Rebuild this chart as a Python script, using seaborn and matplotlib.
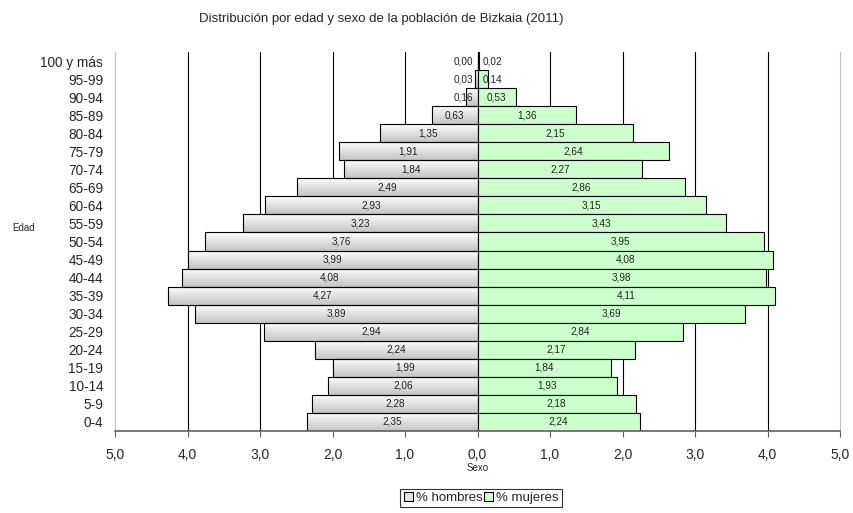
import numpy as np
import pandas as pd
import matplotlib
matplotlib.use("Agg")
import matplotlib.pyplot as plt
import seaborn as sns
from matplotlib.ticker import FuncFormatter
from matplotlib.patches import Patch
from matplotlib.colors import LinearSegmentedColormap

# Age groups, top to bottom
ages = ["100 y más", "95-99", "90-94", "85-89", "80-84", "75-79", "70-74",
        "65-69", "60-64", "55-59", "50-54", "45-49", "40-44", "35-39",
        "30-34", "25-29", "20-24", "15-19", "10-14", "5-9", "0-4"]
hombres = [0.00, 0.03, 0.16, 0.63, 1.35, 1.91, 1.84, 2.49, 2.93, 3.23, 3.76,
           3.99, 4.08, 4.27, 3.89, 2.94, 2.24, 1.99, 2.06, 2.28, 2.35]
mujeres = [0.02, 0.14, 0.53, 1.36, 2.15, 2.64, 2.27, 2.86, 3.15, 3.43, 3.95,
           4.08, 3.98, 4.11, 3.69, 2.84, 2.17, 1.84, 1.93, 2.18, 2.24]
xticks = [-5, -4, -3, -2, -1, 0, 1, 2, 3, 4, 5]

sns.set_style("white")
plt.rcParams["font.family"] = ["Liberation Sans", "DejaVu Sans"]

W, H = 854, 513
fig = plt.figure(figsize=(W / 100, H / 100), dpi=100)
L, R, T, B = 115, 840, 52, 431
ax = fig.add_axes([L / W, 1 - B / H, (R - L) / W, (B - T) / H])

df = pd.DataFrame({"Edad": ages,
                   "hombres": [-v for v in hombres],
                   "mujeres": mujeres})

green = "#ccffcc"
sns.barplot(data=df, y="Edad", x="hombres", order=ages, orient="h",
            color="#dcdcdc", saturation=1, width=1.0,
            edgecolor="black", linewidth=0.8, ax=ax, zorder=2)
n_men = len(ax.patches)
sns.barplot(data=df, y="Edad", x="mujeres", order=ages, orient="h",
            color=green, saturation=1, width=1.0,
            edgecolor="black", linewidth=0.8, ax=ax, zorder=2)

# Vertical grey gradient inside the men's bars
grad = LinearSegmentedColormap.from_list("g", ["#ffffff", "#c4c4c4"])
gimg = np.linspace(0, 1, 64).reshape(-1, 1)
for p in ax.patches[:n_men]:
    x0, y0 = p.get_x(), p.get_y()
    w, h = p.get_width(), p.get_height()
    if abs(w) < 1e-9:
        continue
    p.set_facecolor("none")
    im = ax.imshow(gimg, cmap=grad, aspect="auto",
                   extent=[x0, x0 + w, y0 + h, y0], zorder=1.9,
                   interpolation="bilinear")
    im.set_clip_path(p)

ax.set_xlim(-5, 5)
ax.set_ylim(len(ages) - 0.5, -0.5)

# Value labels
fmt = lambda v: f"{v:.2f}".replace(".", ",")
for i, (m, f) in enumerate(zip(hombres, mujeres)):
    ax.text(-max(m / 2, 0.2), i, fmt(m), ha="center", va="center",
            fontsize=7.2, color="#222222", zorder=5)
    ax.text(max(f / 2, 0.2), i, fmt(f), ha="center", va="center",
            fontsize=7.2, color="#222222", zorder=5)

# Axes styling
ax.set_xticks(xticks)
ax.xaxis.set_major_formatter(FuncFormatter(lambda x, _: f"{abs(x):.1f}".replace(".", ",")))
ax.grid(axis="x", color="black", linewidth=0.8)
ax.set_axisbelow(True)
for gl, t in zip(ax.get_xgridlines(), xticks):
    if abs(t) == 5:
        gl.set_visible(False)

ax.spines["top"].set_visible(False)
ax.spines["left"].set_color("#c0c0c0")
ax.spines["right"].set_color("#c0c0c0")
ax.spines["bottom"].set_color("#606060")
ax.spines["bottom"].set_linewidth(1.2)
ax.tick_params(axis="x", bottom=True, length=4, color="#606060",
               labelsize=10, pad=8)
ax.tick_params(axis="y", left=False, labelsize=9.8, pad=5)

ax.set_xlabel("Sexo", fontsize=7)
ax.xaxis.set_label_coords(0.5, (B - 463) / (B - T))
ax.set_ylabel("Edad", fontsize=7, rotation=0, va="center", ha="center")
ax.yaxis.set_label_coords((24 - L) / (R - L), (B - 228) / (B - T))

fig.text(381 / W, 1 - 19 / H,
         "Distribución por edad y sexo de la población de Bizkaia (2011)",
         ha="center", va="center", fontsize=9.5)

handles = [Patch(facecolor="#e4e4e4", edgecolor="black", linewidth=0.8),
           Patch(facecolor=green, edgecolor="black", linewidth=0.8)]
leg = fig.legend(handles, ["% hombres", "% mujeres"], loc="center",
                 bbox_to_anchor=(481 / W, 1 - 498 / H), ncol=2,
                 fontsize=9.5, frameon=True, fancybox=False,
                 handlelength=0.7, handleheight=0.7, handletextpad=0.2,
                 columnspacing=0.1, borderpad=0.25, borderaxespad=0)
leg.get_frame().set_edgecolor("black")
leg.get_frame().set_linewidth(0.8)

fig.savefig("out.png", dpi=100)
